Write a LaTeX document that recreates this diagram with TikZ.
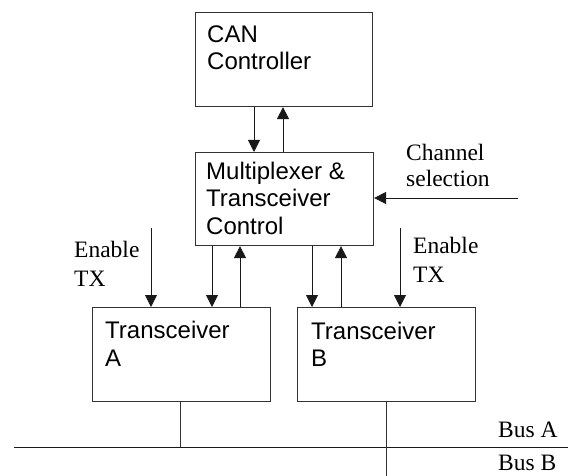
\documentclass[tikz,border=0pt]{standalone}
\usepackage{fontspec}
\setmainfont{Liberation Serif}
\newfontfamily\boxfont{Liberation Sans}
\usetikzlibrary{arrows.meta}
\begin{document}
\begin{tikzpicture}[x=1pt,y=-1pt,
  blk/.style={draw=black!80,line width=1.1pt,inner sep=0pt,anchor=north west},
  btxt/.style={anchor=base west,inner sep=0pt,font=\boxfont\fontsize{24}{27}\selectfont},
  ltxt/.style={anchor=base west,inner sep=0pt,font=\fontsize{23.5}{27}\selectfont},
  arr/.style={draw=black!90,line width=0.9pt,-{Triangle[width=12pt,length=12pt]}},
  ln/.style={draw=black!80,line width=1pt}]
\useasboundingbox (0,0) rectangle (568,476);
% boxes
\node[blk,minimum width=177pt,minimum height=94pt] (can) at (195,12) {};
\node[blk,minimum width=178pt,minimum height=93pt] (mux) at (195,152) {};
\node[blk,minimum width=178pt,minimum height=94pt] (txA) at (92,307) {};
\node[blk,minimum width=178pt,minimum height=94pt] (txB) at (297,307) {};
% box texts
\node[btxt] (canT1) at (207,43) {CAN};
\node[btxt] (canT2) at (207,70) {Controller};
\node[btxt] (muxT1) at (206,180) {Multiplexer \&};
\node[btxt] (muxT2) at (206,207) {Transceiver};
\node[btxt] (muxT3) at (206,234) {Control};
\node[btxt] (txAT1) at (105,338) {Transceiver};
\node[btxt] (txAT2) at (105,366) {A};
\node[btxt] (txBT1) at (311,339) {Transceiver};
\node[btxt] (txBT2) at (311,366) {B};
% outside labels
\node[ltxt] (chL1) at (406,161) {Channel};
\node[ltxt] (chL2) at (406,187) {selection};
\node[ltxt] (enA1) at (74,258) {Enable};
\node[ltxt] (enA2) at (74,286) {TX};
\node[ltxt] (enB1) at (413,253) {Enable};
\node[ltxt] (enB2) at (413,282) {TX};
\node[ltxt] (busA) at (498,437) {Bus A};
\node[ltxt] (busB) at (498,470) {Bus B};
% column coordinates
\coordinate (c1) at (254,0);
\coordinate (c2) at (283,0);
\coordinate (a1) at (212,0);
\coordinate (a2) at (240,0);
\coordinate (b1) at (312,0);
\coordinate (b2) at (341,0);
\coordinate (ea) at (151,0);
\coordinate (eb) at (400,0);
\coordinate (da) at (180,0);
\coordinate (db) at (386,0);
\coordinate (eaTop) at (151,228);
\coordinate (ebTop) at (400,228);
\coordinate (chStart) at (518,198);
\coordinate (busL) at (14,447);
\coordinate (busR) at (568,447);
\coordinate (dbEnd) at (386,476);
% connectors
\draw[arr] (c1 |- can.south) -- (c1 |- mux.north);
\draw[arr] (c2 |- mux.north) -- (c2 |- can.south);
\draw[arr] (chStart) -- (chStart -| mux.east);
\draw[arr] (eaTop) -- (ea |- txA.north);
\draw[arr] (ebTop) -- (eb |- txB.north);
\draw[arr] (a1 |- mux.south) -- (a1 |- txA.north);
\draw[arr] (a2 |- txA.north) -- (a2 |- mux.south);
\draw[arr] (b1 |- mux.south) -- (b1 |- txB.north);
\draw[arr] (b2 |- txB.north) -- (b2 |- mux.south);
% bus
\draw[ln,draw=black!90] (busL) -- (busR);
\draw[ln] (da |- txA.south) -- (da |- busL);
\draw[ln] (db |- txB.south) -- (dbEnd);
\end{tikzpicture}
\end{document}
